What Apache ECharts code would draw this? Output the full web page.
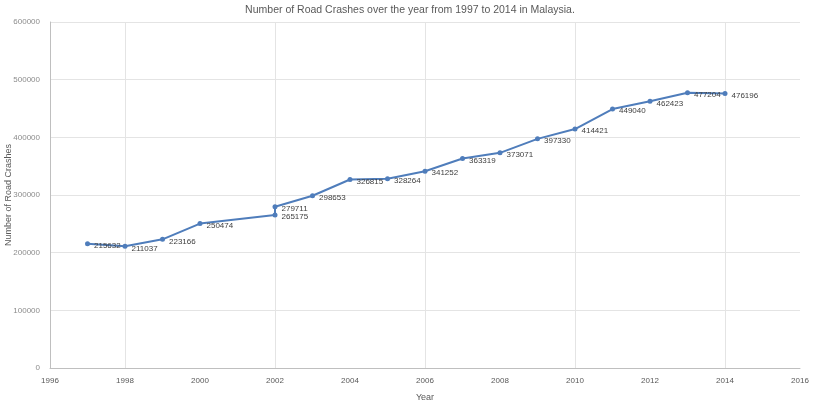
<!DOCTYPE html>
<html lang="en">
<head>
    <meta charset="UTF-8">
    <title>Road Crashes</title>
    <script type="text/javascript" src="https://cdn.jsdelivr.net/npm/echarts@6/dist/echarts.min.js"></script>
    <style>
        body { margin: 0; background: #fff; }
    </style>
</head>
<body>
<div id="main" style="width: 820px;height:408px;"></div>
<script>
    // years as plotted in the source (2001 value sits on 2002)
    var years = [1997, 1998, 1999, 2000, 2002, 2002, 2003, 2004, 2005, 2006, 2007, 2008, 2009, 2010, 2011, 2012, 2013, 2014];
    var crashes = [215632, 211037, 223166, 250474, 265175, 279711, 298653, 326815, 328264, 341252, 363319, 373071, 397330, 414421, 449040, 462423, 477204, 476196];
    var yTicks = [0, 100000, 200000, 300000, 400000, 500000, 600000];
    var vGridYears = [1998, 2002, 2006, 2010, 2014];

    var points = [];
    for (var i = 0; i < years.length; i++) {
        points.push([years[i], crashes[i]]);
    }
    var vLines = vGridYears.map(function (y) { return { xAxis: y }; });

    var myChart = echarts.init(document.getElementById("main"));
    var option = {
        animation: false,
        title: {
            text: 'Number of Road Crashes over the year from 1997 to 2014 in Malaysia.',
            left: 'center',
            top: 0,
            textStyle: {
                fontSize: 10.5,
                fontWeight: 'normal',
                color: '#595959',
                fontFamily: 'Liberation Sans'
            }
        },
        grid: {
            left: 50,
            right: 20,
            top: 22,
            bottom: 40,
            outerBoundsMode: 'none',
            containLabel: false
        },
        xAxis: {
            type: 'value',
            min: 1996,
            max: 2016,
            interval: 2,
            name: 'Year',
            nameLocation: 'middle',
            nameGap: 25,
            nameMoveOverlap: false,
            nameTextStyle: { fontSize: 9, color: '#595959' },
            axisLine: { lineStyle: { color: '#bfbfbf' } },
            axisTick: { show: false },
            axisLabel: {
                fontSize: 8, color: '#595959', margin: 9,
                formatter: function (v) { return String(v); }
            },
            splitLine: { show: false }
        },
        yAxis: {
            type: 'value',
            min: yTicks[0],
            max: yTicks[yTicks.length - 1],
            interval: 100000,
            name: 'Number of Road Crashes',
            nameLocation: 'middle',
            nameGap: 37,
            nameMoveOverlap: false,
            nameRotate: 90,
            nameTextStyle: { fontSize: 9, color: '#595959' },
            axisLine: { show: true, lineStyle: { color: '#bfbfbf' } },
            axisTick: { show: false },
            axisLabel: {
                fontSize: 8, color: '#8c8c8c', margin: 10,
                formatter: function (v) { return String(v); }
            },
            splitLine: { show: true, lineStyle: { color: '#e4e4e4' } }
        },
        series: [{
            type: 'line',
            data: points,
            symbol: 'circle',
            symbolSize: 5,
            itemStyle: { color: '#4f7dbb' },
            lineStyle: { color: '#4f7dbb', width: 2 },
            label: {
                show: true,
                position: 'right',
                distance: 4,
                offset: [0, 2],
                fontSize: 8,
                color: '#404040',
                formatter: function (p) { return String(p.value[1]); }
            },
            markLine: {
                silent: true,
                symbol: 'none',
                label: { show: false },
                lineStyle: { color: '#e4e4e4', type: 'solid', width: 1 },
                z: 0,
                data: vLines
            }
        }]
    };
    myChart.setOption(option);
</script>
</body>
</html>
